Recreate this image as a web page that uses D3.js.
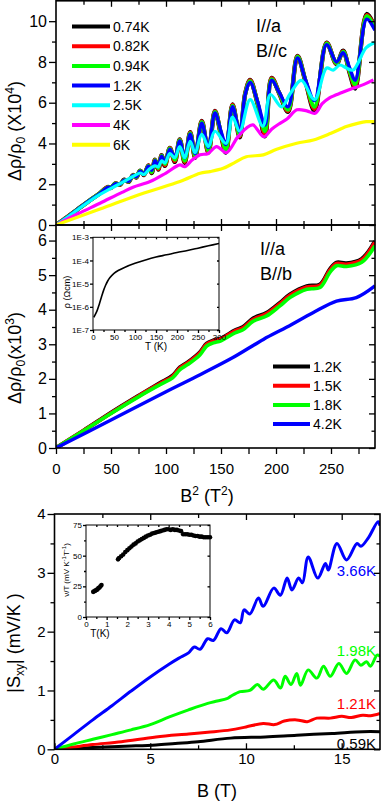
<!DOCTYPE html>
<html>
<head>
<meta charset="utf-8">
<script src="https://cdnjs.cloudflare.com/ajax/libs/d3/7.8.5/d3.min.js"></script>
<style>
body { margin: 0; background: #fff; }
svg { display: block; }
</style>
</head>
<body>
<div id="chart"></div>
<script>
// ---- panel (a): I//a, B//c  (B^2 in T^2, drho/rho0 in 1e4)
var b2Low   = [0,10,20,30,40,47,50,54,58,62,66,70,73,76.5,80,84,87,90,93,96,99,103.5,108,112.5,117,122,126.5,132.5,138.5,144.5,150,154.5,160.5,167,172,176.5,183,190,196,203,211,219.5,227,235,246,255,261,267,272,282.5,290];
var rho074K = [0,0.38,0.78,1.18,1.56,1.86,1.82,2.04,1.97,2.22,2.12,2.45,2.33,2.67,2.45,2.92,2.55,3.2,2.72,3.42,2.9,3.78,3.1,4.2,3.05,4.55,3.3,5.1,3.55,5.6,4.4,3.55,5.92,4.3,6.45,7.12,6.0,4.35,7.22,6.45,5.55,8.3,7.0,5.6,8.95,7.9,8.55,7.45,6.7,10.35,9.7];
var rho082K = [0,0.38,0.78,1.18,1.56,1.86,1.83,2.04,1.98,2.21,2.13,2.44,2.34,2.66,2.47,2.91,2.58,3.19,2.75,3.41,2.93,3.77,3.14,4.18,3.1,4.53,3.33,5.08,3.58,5.58,4.45,3.62,5.9,4.35,6.44,7.1,6.02,4.45,7.2,6.47,5.6,8.28,7.02,5.7,8.93,7.92,8.52,7.5,6.8,10.3,9.68];
var rho094K = [0,0.38,0.78,1.18,1.56,1.85,1.84,2.03,1.99,2.2,2.14,2.43,2.35,2.65,2.49,2.9,2.6,3.18,2.8,3.4,3.0,3.75,3.2,4.16,3.15,4.5,3.4,5.05,3.65,5.55,4.5,3.7,5.85,4.4,6.42,7.05,6.05,4.6,7.15,6.48,5.65,8.25,7.05,5.8,8.9,7.95,8.5,7.55,6.9,10.25,9.62];
var rho12K  = [0,0.38,0.78,1.18,1.55,1.85,1.84,2.02,1.99,2.2,2.15,2.43,2.36,2.64,2.5,2.88,2.68,3.15,2.88,3.38,3.08,3.72,3.32,4.12,3.3,4.45,3.5,5.0,3.8,5.5,4.6,3.95,5.8,4.58,6.4,7.0,6.1,4.9,7.1,6.5,5.8,8.2,7.1,6.1,8.85,8.0,8.45,7.7,7.1,10.1,9.55];
var b2Cyan  = [0,10,20,30,40,50,60,70,76.5,80,85,90,93,96,99,103.5,108,112.5,117,122,126.5,132.5,138.5,144.5,154.5,160.5,167,176.5,188,195,205,213,223,235,246,252,258,264,270,282,290];
var rho25K  = [0,0.37,0.76,1.15,1.5,1.8,2.08,2.38,2.55,2.48,2.75,2.9,2.85,3.15,3.05,3.5,3.3,3.85,3.3,4.1,3.55,4.45,3.85,4.6,4.0,5.3,4.6,6.15,4.85,6.4,5.8,6.45,7.1,6.15,7.7,7.6,7.85,7.7,7.6,8.7,8.95];
var b2Mag   = [0,20,40,60,70,85.5,100,112.7,117,124,131,138,146,155,165,173,179,189,196,203.6,210,219,228,235.5,242,249,260,270,280,288.5];
var rho4K   = [0,0.55,1.07,1.6,1.85,2.13,2.55,2.95,2.86,3.2,3.45,3.5,3.85,3.55,4.3,4.75,4.91,4.33,4.7,4.99,5.2,5.65,5.6,5.48,5.95,6.25,6.5,6.71,6.9,7.12];
var b2Yel   = [0,40,80,112.7,131,140,152,162,173,188.5,200,218.8,234,250,264,275,282,290];
var rho6K   = [0,0.78,1.57,2.13,2.54,2.62,2.78,3.05,3.35,3.44,3.7,4.01,4.17,4.5,4.83,5.0,5.07,5.07];
var legendA = ["0.74K","0.82K","0.94K","1.2K","2.5K","4K","6K"];
var colorsA = ["#000000","#ff0000","#00ff00","#0000ff","#00ffff","#ff00ff","#ffff00"];

// ---- panel (b): I//a, B//b  (drho/rho0 in 1e3)
var b2B     = [0,25,50,75,94.5,106,112.7,120,131,137,143,150,162.7,170,179.4,191.5,203.6,212.7,228,240,249,255,264,278,290];
var rhoB12K = [0,0.5,1.02,1.51,1.88,2.09,2.33,2.48,2.77,3.02,3.11,3.17,3.4,3.5,3.75,3.91,4.2,4.44,4.68,4.73,5.17,5.36,5.34,5.47,5.98];
var rhoB15K = [0,0.5,1.01,1.5,1.86,2.07,2.31,2.46,2.75,3.0,3.09,3.15,3.38,3.47,3.72,3.88,4.17,4.41,4.65,4.7,5.14,5.33,5.31,5.44,5.95];
var rhoB18K = [0,0.5,1.0,1.48,1.83,2.03,2.27,2.42,2.7,2.95,3.04,3.1,3.33,3.42,3.67,3.82,4.11,4.35,4.59,4.64,5.08,5.27,5.25,5.37,5.85];
var b2B42   = [0,50,100,131,160,188.5,210,234,255,273,290];
var rhoB42K = [0,0.81,1.63,2.12,2.6,3.14,3.5,3.92,4.25,4.35,4.69];
var legendB = ["1.2K","1.5K","1.8K","4.2K"];
var colorsB = ["#000000","#ff0000","#00ff00","#0000ff"];

// inset: rho(T)
var tRho    = [2,5,10,15,20,25,30,35,40,50,60,75,100,125,150,175,200,225,250,275,300];
var rhoT    = [3.5e-7,4.5e-7,7e-7,1.3e-6,2.6e-6,5e-6,8.5e-6,1.3e-5,1.8e-5,2.8e-5,3.7e-5,5e-5,7.5e-5,1.05e-4,1.4e-4,1.75e-4,2.2e-4,2.7e-4,3.4e-4,4.3e-4,5.4e-4];
var rhoTicks = [1e-7,1e-6,1e-5,1e-4,1e-3];

// ---- panel (c): |Sxy| vs B
var bS366 = [0,1,2,3,4,5,6,6.5,7,7.3,7.6,8.0,8.3,8.7,9.0,9.4,9.7,9.9,10.2,10.65,10.9,11.45,11.8,12.15,12.4,12.75,12.95,13.25,13.75,14.15,14.3,14.75,15.25,15.8,16.0,16.4,16.9,17];
var s366K = [0,0.25,0.5,0.74,0.99,1.23,1.45,1.55,1.64,1.74,1.7,1.88,1.85,2.05,1.98,2.2,2.15,2.37,2.3,2.57,2.43,2.74,2.62,2.91,2.71,2.91,2.83,3.27,2.91,3.16,3.05,3.5,3.22,3.5,3.45,3.6,3.87,3.8];
var bS198 = [0,1,2,3,4,5,6,7,8,8.5,9.0,9.2,9.7,10.2,10.6,10.9,11.45,11.8,12.05,12.35,12.65,12.85,13.25,13.7,14.05,14.4,14.85,15.25,15.7,16.0,16.3,16.5,16.85,17];
var s198K = [0,0.09,0.17,0.25,0.33,0.42,0.55,0.67,0.78,0.82,0.86,0.9,0.98,1.0,1.1,1.02,1.18,1.04,1.24,1.1,1.29,1.09,1.35,1.21,1.41,1.24,1.46,1.29,1.52,1.43,1.49,1.41,1.6,1.58];
var bS121 = [0,1,2,3.5,5.3,7,8,9.2,10,10.9,11.5,12,12.65,13.2,13.7,14.4,15,15.5,16.1,16.5,17];
var s121K = [0,0.04,0.08,0.13,0.21,0.26,0.29,0.33,0.38,0.44,0.42,0.48,0.5,0.47,0.53,0.53,0.56,0.54,0.58,0.57,0.61];
var bS059 = [0,2,4,5.3,6.3,7.5,9.2,11,12.65,14.5,16.1,17];
var s059K = [0,0.03,0.055,0.075,0.1,0.13,0.19,0.21,0.24,0.27,0.3,0.3];
var labelsC = ["3.66K","1.98K","1.21K","0.59K"];
var colorsC = ["#0000ff","#00ff00","#ff0000","#000000"];

// inset: nu/T vs T
var tNu  = [0.35,0.4,0.45,0.5,0.55,0.6,0.65,0.7,0.75,1.55,1.6,1.7,1.8,1.9,2.0,2.1,2.2,2.3,2.4,2.5,2.6,2.7,2.8,2.9,3.0,3.1,3.2,3.3,3.4,3.5,3.6,3.7,3.8,3.9,4.0,4.1,4.2,4.3,4.4,4.5,4.6,4.7,4.8,4.9,5.0,5.1,5.2,5.3,5.4,5.5,5.6,5.7,5.8,5.9,6.0];
var nuT  = [20.5,21,21.5,22,22.5,23.5,24,25,26,47,48,49.5,51,53,54.5,56,57.5,59,60,61.5,62.5,63.5,64.5,65.5,66.5,67,68,68.5,69,69.5,70,70.5,71,71.5,71.5,71,71.5,71,71,70.5,70,67.5,67.5,67.5,67,67,66.5,66,66,65.5,65.5,65,65,65,65];

var font = "'Liberation Sans', Arial, Helvetica, sans-serif";
var svg = d3.select("#chart").append("svg")
  .attr("width", 381)
  .attr("height", 801)
  .style("font-family", font);

function zip(xs, ys) {
  return xs.map(function(d, i) { return [d, ys[i]]; });
}

// draws one set of ticks; inward / outward decided by which d3 axis is passed
function ticks(axisFn, scale, vals, size, tx, ty, labels, fs, pad) {
  var ax = axisFn(scale).tickValues(vals).tickSizeInner(size).tickSizeOuter(0).tickPadding(pad || 2);
  if (!labels) ax.tickFormat("");
  else if (typeof labels === "function") ax.tickFormat(labels);
  var a = svg.append("g").attr("transform", "translate(" + tx + "," + ty + ")").call(ax);
  a.select(".domain").remove();
  a.selectAll("line").attr("stroke", "#000").attr("stroke-width", 1.3);
  a.selectAll("text").attr("font-size", fs).attr("fill", "#000").attr("font-family", font);
  return a;
}

function frame(x, y, sw) {
  svg.append("rect")
    .attr("x", x.range()[0]).attr("y", y.range()[1])
    .attr("width", x.range()[1] - x.range()[0])
    .attr("height", y.range()[0] - y.range()[1])
    .attr("fill", "none").attr("stroke", "#000").attr("stroke-width", sw);
}

function clip(id, x, y) {
  svg.append("clipPath").attr("id", id).append("rect")
    .attr("x", x.range()[0]).attr("y", y.range()[1])
    .attr("width", x.range()[1] - x.range()[0])
    .attr("height", y.range()[0] - y.range()[1]);
}

function curve(x, y, pts, color, w, clipId) {
  var line = d3.line()
    .x(function(d) { return x(d[0]); })
    .y(function(d) { return y(d[1]); })
    .curve(d3.curveCatmullRom.alpha(0.5));
  svg.append("path").datum(pts)
    .attr("d", line)
    .attr("fill", "none")
    .attr("stroke", color)
    .attr("stroke-width", w)
    .attr("stroke-linejoin", "round")
    .attr("clip-path", "url(#" + clipId + ")");
}

var fmt = function(d) { return d; };

// ================= panel (a)
var xA = d3.scaleLinear().domain([0, 290]).range([56, 375]);
var yA = d3.scaleLinear().domain([0, 11]).range([225, 0.8]);
clip("clipA", xA, yA);

var seriesA = [
  zip(b2Low, rho074K), zip(b2Low, rho082K), zip(b2Low, rho094K), zip(b2Low, rho12K),
  zip(b2Cyan, rho25K), zip(b2Mag, rho4K), zip(b2Yel, rho6K)
];
var widthsA = [4.4, 4.2, 4.0, 3.4, 3.2, 3.2, 3.2];
seriesA.forEach(function(s, i) { curve(xA, yA, s, colorsA[i], widthsA[i], "clipA"); });

ticks(d3.axisLeft, yA, d3.range(0, 11, 2), 7, 56, 0, fmt, 16);
ticks(d3.axisLeft, yA, d3.range(1, 11, 2), 4, 56, 0, false, 16);
ticks(d3.axisLeft, yA, d3.range(0, 11, 2), 6, 375, 0, false, 16);
ticks(d3.axisLeft, yA, d3.range(1, 11, 2), 3.5, 375, 0, false, 16);
ticks(d3.axisBottom, xA, d3.range(50, 290, 50), 6, 0, 0.8, false, 16);
ticks(d3.axisBottom, xA, d3.range(25, 290, 50), 4, 0, 0.8, false, 16);
ticks(d3.axisTop, xA, d3.range(50, 290, 50), 6, 0, 225, false, 16);
ticks(d3.axisTop, xA, d3.range(25, 290, 50), 4, 0, 225, false, 16);
frame(xA, yA, 1.6);

var legA = svg.append("g");
legendA.forEach(function(name, i) {
  var cy = 26.5 + i * 19.7;
  legA.append("line").attr("x1", 72).attr("x2", 110).attr("y1", cy).attr("y2", cy)
    .attr("stroke", colorsA[i]).attr("stroke-width", 4);
  legA.append("text").attr("x", 113).attr("y", cy + 5).attr("font-size", 14).text(name);
});
svg.append("text").attr("x", 256).attr("y", 31.5).attr("font-size", 18).text("I//a");
svg.append("text").attr("x", 256).attr("y", 56.5).attr("font-size", 18).text("B//c");

var labA = svg.append("text").attr("transform", "translate(21,131) rotate(-90)")
  .attr("text-anchor", "middle").attr("font-size", 18);
labA.append("tspan").text("\u0394\u03c1/\u03c1");
labA.append("tspan").attr("dy", 4).attr("font-size", 12).text("0");
labA.append("tspan").attr("dy", -4).text(" (X10");
labA.append("tspan").attr("dy", -7).attr("font-size", 12).text("4");
labA.append("tspan").attr("dy", 7).text(")");

// ================= panel (b)
var xB = d3.scaleLinear().domain([0, 290]).range([56, 375]);
var yB = d3.scaleLinear().domain([0, 6.45]).range([448, 225]);
clip("clipB", xB, yB);

curve(xB, yB, zip(b2B, rhoB12K), colorsB[0], 4.2, "clipB");
curve(xB, yB, zip(b2B, rhoB15K), colorsB[1], 4.0, "clipB");
curve(xB, yB, zip(b2B, rhoB18K), colorsB[2], 3.6, "clipB");
curve(xB, yB, zip(b2B42, rhoB42K), colorsB[3], 3.4, "clipB");

ticks(d3.axisLeft, yB, d3.range(0, 7, 1), 7, 56, 0, fmt, 16);
ticks(d3.axisLeft, yB, d3.range(0.5, 6.5, 1), 4, 56, 0, false, 16);
ticks(d3.axisLeft, yB, d3.range(0, 7, 1), 6, 375, 0, false, 16);
ticks(d3.axisLeft, yB, d3.range(0.5, 6.5, 1), 3.5, 375, 0, false, 16);
ticks(d3.axisBottom, xB, d3.range(50, 290, 50), 6, 0, 225, false, 16);
ticks(d3.axisBottom, xB, d3.range(25, 290, 50), 4, 0, 225, false, 16);
ticks(d3.axisBottom, xB, d3.range(0, 290, 50), 6, 0, 448, fmt, 15, 9);
ticks(d3.axisBottom, xB, d3.range(25, 290, 50), 6, 0, 448, false, 15);
frame(xB, yB, 1.6);

var legB = svg.append("g");
legendB.forEach(function(name, i) {
  var cy = 366.5 + i * 19.2;
  legB.append("line").attr("x1", 273).attr("x2", 310).attr("y1", cy).attr("y2", cy)
    .attr("stroke", colorsB[i]).attr("stroke-width", 4);
  legB.append("text").attr("x", 313).attr("y", cy + 5).attr("font-size", 14).text(name);
});
svg.append("text").attr("x", 260).attr("y", 255).attr("font-size", 18).text("I//a");
svg.append("text").attr("x", 260).attr("y", 280).attr("font-size", 18).text("B//b");

var labB = svg.append("text").attr("transform", "translate(21,358) rotate(-90)")
  .attr("text-anchor", "middle").attr("font-size", 18);
labB.append("tspan").text("\u0394\u03c1/\u03c1");
labB.append("tspan").attr("dy", 4).attr("font-size", 12).text("0");
labB.append("tspan").attr("dy", -4).text("(x10");
labB.append("tspan").attr("dy", -7).attr("font-size", 12).text("3");
labB.append("tspan").attr("dy", 7).text(")");

var labX1 = svg.append("text").attr("x", 207).attr("y", 502).attr("text-anchor", "middle").attr("font-size", 18);
labX1.append("tspan").text("B");
labX1.append("tspan").attr("dy", -7).attr("font-size", 12).text("2");
labX1.append("tspan").attr("dy", 7).text(" (T");
labX1.append("tspan").attr("dy", -7).attr("font-size", 12).text("2");
labX1.append("tspan").attr("dy", 7).text(")");

// inset rho(T)
var xI = d3.scaleLinear().domain([0, 300]).range([93, 219]);
var yI = d3.scaleLog().domain([1e-7, 1e-3]).range([330, 237.3]);
svg.append("rect").attr("x", 93).attr("y", 237.3).attr("width", 126).attr("height", 92.7).attr("fill", "#fff");
clip("clipI", xI, yI);
curve(xI, yI, zip(tRho, rhoT), "#000", 1.6, "clipI");
ticks(d3.axisLeft, yI, rhoTicks, 3, 93, 0, function(d) { return "1E" + Math.round(Math.log10(d)); }, 8, 1);
ticks(d3.axisLeft, yI, rhoTicks, 2, 219, 0, false, 8);
ticks(d3.axisBottom, xI, d3.range(0, 301, 50), 3, 0, 330, fmt, 8, 1);
ticks(d3.axisBottom, xI, d3.range(25, 300, 50), 2, 0, 330, false, 8);
ticks(d3.axisBottom, xI, d3.range(25, 300, 25), 2, 0, 237.3, false, 8);
frame(xI, yI, 1);
svg.append("text").attr("x", 156).attr("y", 350).attr("text-anchor", "middle").attr("font-size", 10).text("T (K)");
svg.append("text").attr("transform", "translate(70,292) rotate(-90)").attr("text-anchor", "middle")
  .attr("font-size", 9).text("\u03c1 (\u03a9cm)");

// ================= panel (c)
var xC = d3.scaleLinear().domain([0, 17]).range([54.5, 380]);
var yC = d3.scaleLinear().domain([0, 4]).range([749.3, 514]);
clip("clipC", xC, yC);

curve(xC, yC, zip(bS059, s059K), colorsC[3], 3, "clipC");
curve(xC, yC, zip(bS121, s121K), colorsC[2], 3, "clipC");
curve(xC, yC, zip(bS198, s198K), colorsC[1], 3, "clipC");
curve(xC, yC, zip(bS366, s366K), colorsC[0], 3, "clipC");

ticks(d3.axisLeft, yC, d3.range(0, 5, 1), 7, 54.5, 0, fmt, 15);
ticks(d3.axisLeft, yC, d3.range(0.5, 4, 1), 4, 54.5, 0, false, 15);
ticks(d3.axisLeft, yC, d3.range(0, 5, 1), 6, 380, 0, false, 15);
ticks(d3.axisLeft, yC, d3.range(0.5, 4, 1), 3.5, 380, 0, false, 15);
ticks(d3.axisBottom, xC, d3.range(5, 17, 5), 6, 0, 514, false, 15);
ticks(d3.axisBottom, xC, d3.range(2.5, 17, 5), 4, 0, 514, false, 15);
var bx = ticks(d3.axisTop, xC, d3.range(0, 17, 5), 6, 0, 749.3, fmt, 15);
bx.selectAll("text").attr("y", 4).attr("dy", "0.71em");
ticks(d3.axisTop, xC, d3.range(2.5, 17, 5), 4, 0, 749.3, false, 15);
frame(xC, yC, 1.6);

var labelYs = [575.5, 655.5, 708.8, 749];
labelsC.forEach(function(name, i) {
  svg.append("text").attr("x", 376).attr("y", labelYs[i]).attr("text-anchor", "end")
    .attr("font-size", 15).attr("fill", colorsC[i]).text(name);
});

var labC = svg.append("text").attr("transform", "translate(20,643) rotate(-90)")
  .attr("text-anchor", "middle").attr("font-size", 18);
labC.append("tspan").text("|S");
labC.append("tspan").attr("dy", 4).attr("font-size", 12).text("xy");
labC.append("tspan").attr("dy", -4).text("| (mV/K )");

svg.append("text").attr("x", 217).attr("y", 797).attr("text-anchor", "middle").attr("font-size", 18).text("B (T)");

// inset nu/T
var xN = d3.scaleLinear().domain([0, 6]).range([86, 210]);
var yN = d3.scaleLinear().domain([0, 75]).range([617, 525]);
svg.append("rect").attr("x", 86).attr("y", 525).attr("width", 124).attr("height", 92).attr("fill", "#fff");
svg.append("g").selectAll("circle")
  .data(zip(tNu, nuT))
  .enter()
  .append("circle")
  .attr("cx", function(d) { return xN(d[0]); })
  .attr("cy", function(d) { return yN(d[1]); })
  .attr("r", 2.3)
  .attr("fill", "#000");
ticks(d3.axisLeft, yN, [0, 25, 50, 75], 3, 86, 0, fmt, 8, 1);
ticks(d3.axisLeft, yN, [12.5, 37.5, 62.5], 2, 86, 0, false, 8);
ticks(d3.axisLeft, yN, [0, 25, 50, 75], 2.5, 210, 0, false, 8);
ticks(d3.axisBottom, xN, d3.range(0, 7, 1), 3, 0, 617, fmt, 8, 1);
ticks(d3.axisBottom, xN, d3.range(0.5, 6, 1), 2, 0, 617, false, 8);
ticks(d3.axisBottom, xN, d3.range(0.5, 6, 0.5), 2, 0, 525, false, 8);
frame(xN, yN, 1);
svg.append("text").attr("x", 100).attr("y", 637).attr("text-anchor", "middle").attr("font-size", 10).text("T(K)");
var labN = svg.append("text").attr("transform", "translate(69,570) rotate(-90)")
  .attr("text-anchor", "middle").attr("font-size", 8);
labN.append("tspan").text("\u03bd/T (mV K");
labN.append("tspan").attr("dy", -3).attr("font-size", 6).text("-1");
labN.append("tspan").attr("dy", 3).text("T");
labN.append("tspan").attr("dy", -3).attr("font-size", 6).text("-1");
labN.append("tspan").attr("dy", 3).text(")");
</script>
</body>
</html>
